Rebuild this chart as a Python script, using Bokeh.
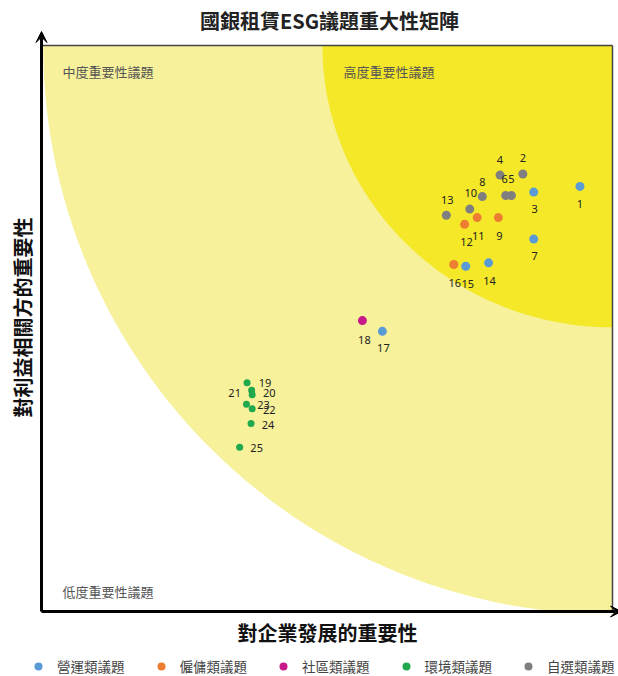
from bokeh.plotting import figure
from bokeh.models import ColumnDataSource, Label, Arrow, VeeHead, Legend, LegendItem
from bokeh.embed import file_html
from bokeh.resources import INLINE
from bokeh.core.properties import value
import numpy as np
import math

# ---------------- data ----------------
title_text = "國銀租賃ESG議題重大性矩陣"
x_title = "對企業發展的重要性"
y_title = "對利益相關方的重要性"

issue_ids = [str(i) for i in range(1, 26)]
business_importance = [9.43, 8.43, 8.62, 8.03, 8.23, 8.13, 8.62, 7.72, 8.00, 7.50,
                       7.63, 7.41, 7.09, 7.83, 7.43, 7.22, 5.97, 5.62, 3.60, 3.69,
                       3.68, 3.69, 3.59, 3.67, 3.47]
stakeholder_importance = [7.51, 7.73, 7.41, 7.71, 7.35, 7.35, 6.58, 7.33, 6.96, 7.11,
                          6.96, 6.84, 7.00, 6.16, 6.10, 6.13, 4.95, 5.14, 4.04, 3.83,
                          3.91, 3.58, 3.66, 3.32, 2.90]
issue_category = ["營運類議題", "自選類議題", "營運類議題", "自選類議題", "自選類議題",
                  "自選類議題", "營運類議題", "自選類議題", "僱傭類議題", "自選類議題",
                  "僱傭類議題", "僱傭類議題", "自選類議題", "營運類議題", "營運類議題",
                  "僱傭類議題", "營運類議題", "社區類議題", "環境類議題", "環境類議題",
                  "環境類議題", "環境類議題", "環境類議題", "環境類議題", "環境類議題"]
categories = ["營運類議題", "僱傭類議題", "社區類議題", "環境類議題", "自選類議題"]
zone_labels = ["低度重要性議題", "中度重要性議題", "高度重要性議題"]
# zone boundaries: quarter ellipses around the top-right corner (x radius, y radius)
zone_radius_x = [9.97, 5.08]
zone_radius_y = [10.05, 4.98]
axis_max = 10

# ---------------- styles ----------------
cat_colors = {"營運類議題": "#5B9BD5", "僱傭類議題": "#ED7D31", "社區類議題": "#C8198A",
              "環境類議題": "#1FA84C", "自選類議題": "#7F7F7F"}
cat_sizes = {"營運類議題": 9, "僱傭類議題": 9, "社區類議題": 9, "環境類議題": 7, "自選類議題": 9}
zone_colors = ["#F6F19A", "#F5E829"]
# label offsets in screen px (dx, dy-down)
label_offsets = [(0, 18), (0, -16), (1, 17), (0, -15), (0, -16), (-1, -16), (1, 17), (0, -15),
                 (1, 18), (1, -16), (1, 18), (2, 18), (1, -15), (1, 18), (2, 18), (1, 18),
                 (1, 17), (2, 19), (18, 0), (17, -2), (-17, 3), (17, 1), (17, 1), (17, 1), (17, 1)]

CJK = "Noto Sans CJK TC"
W, H = 618, 676
BOX_L, BOX_R, BOX_T, BOX_B = 41, 612, 45, 611    # box edges in px
sx = (BOX_R - BOX_L) / axis_max
sy = (BOX_B - BOX_T) / axis_max

p = figure(width=W, height=H,
           x_range=(-BOX_L / sx, axis_max + (W - BOX_R) / sx),
           y_range=(-(H - BOX_B) / sy, axis_max + BOX_T / sy),
           output_backend="svg", toolbar_location=None,
           x_axis_location=None, y_axis_location=None, title_location=None,
           min_border_left=0, min_border_right=0, min_border_top=0, min_border_bottom=0)
p.grid.grid_line_color = None
p.outline_line_color = None
p.background_fill_color = "white"
p.border_fill_color = "white"

# zones (quarter ellipses centred at the top-right corner of the box)
t = np.linspace(0, math.pi / 2, 120)
for rx, ry, c_ in zip(zone_radius_x, zone_radius_y, zone_colors):
    xs = np.concatenate([[axis_max], axis_max - rx * np.cos(t)])
    ys = np.concatenate([[axis_max], axis_max - ry * np.sin(t)])
    xs = np.clip(xs, 0, axis_max)
    ys = np.clip(ys, 0, axis_max)
    p.patch(x=xs, y=ys, fill_color=c_, line_color=None)

# box top and right edges
p.segment(x0=[0, axis_max], y0=[axis_max, 0], x1=[axis_max, axis_max], y1=[axis_max, axis_max],
          line_color="#444444", line_width=1.5)

# points by category
legend_items = []
for cat in categories:
    idx = [i for i, c in enumerate(issue_category) if c == cat]
    src = ColumnDataSource(dict(x=[business_importance[i] for i in idx],
                                y=[stakeholder_importance[i] for i in idx]))
    r = p.scatter("x", "y", source=src, size=cat_sizes[cat], marker="circle",
                  fill_color=cat_colors[cat], line_color=None)
    legend_items.append(LegendItem(label=cat, renderers=[r]))

lab_src = ColumnDataSource(dict(x=business_importance, y=stakeholder_importance, t=issue_ids,
                                dx=[o[0] for o in label_offsets], dy=[o[1] for o in label_offsets]))
p.text("x", "y", text="t", source=lab_src, x_offset="dx", y_offset="dy",
       text_align="center", text_baseline="middle", text_font=value("Noto Sans"),
       text_font_size="11px", text_color="#222222")

# helpers: pixel position -> data position
def px_x(v):
    return (v - BOX_L) / sx

def px_y(v):
    return (BOX_B - v) / sy

for txt, lx, ly in [(zone_labels[0], 62, 591), (zone_labels[1], 62, 71), (zone_labels[2], 343, 71)]:
    p.add_layout(Label(x=px_x(lx), y=px_y(ly), text=txt, text_font=CJK, text_font_size="13px",
                       text_color="#555555", text_baseline="middle"))

# axes as arrows
p.add_layout(Arrow(x_start=0, y_start=0, x_end=0, y_end=px_y(31), line_width=3, line_color="black",
                   end=VeeHead(size=11, fill_color="black", line_color="black")))
p.add_layout(Arrow(x_start=0, y_start=0, x_end=px_x(621), y_end=0, line_width=3, line_color="black",
                   end=VeeHead(size=11, fill_color="black", line_color="black")))

# titles
p.add_layout(Label(x=px_x(329), y=px_y(20), text=title_text, text_font=CJK, text_font_size="20px",
                   text_font_style="bold", text_color="#222222",
                   text_align="center", text_baseline="middle"))
p.add_layout(Label(x=px_x(327), y=px_y(632), text=x_title, text_font=CJK, text_font_size="20px",
                   text_font_style="bold", text_color="#111111",
                   text_align="center", text_baseline="middle"))
p.add_layout(Label(x=px_x(22), y=px_y(317), text=y_title, text_font=CJK, text_font_size="20px",
                   text_font_style="bold", text_color="#111111", angle=math.pi / 2,
                   text_align="center", text_baseline="middle"))

legend = Legend(items=legend_items, orientation="horizontal", location=(28, 0),
                spacing=26, label_standoff=9, glyph_width=20, glyph_height=20,
                padding=0, margin=0, border_line_color=None, background_fill_alpha=0,
                label_text_font=CJK, label_text_font_size="13.5px", label_text_color="#444444")
p.add_layout(legend)

open("out.html", "w").write(file_html(p, INLINE))
